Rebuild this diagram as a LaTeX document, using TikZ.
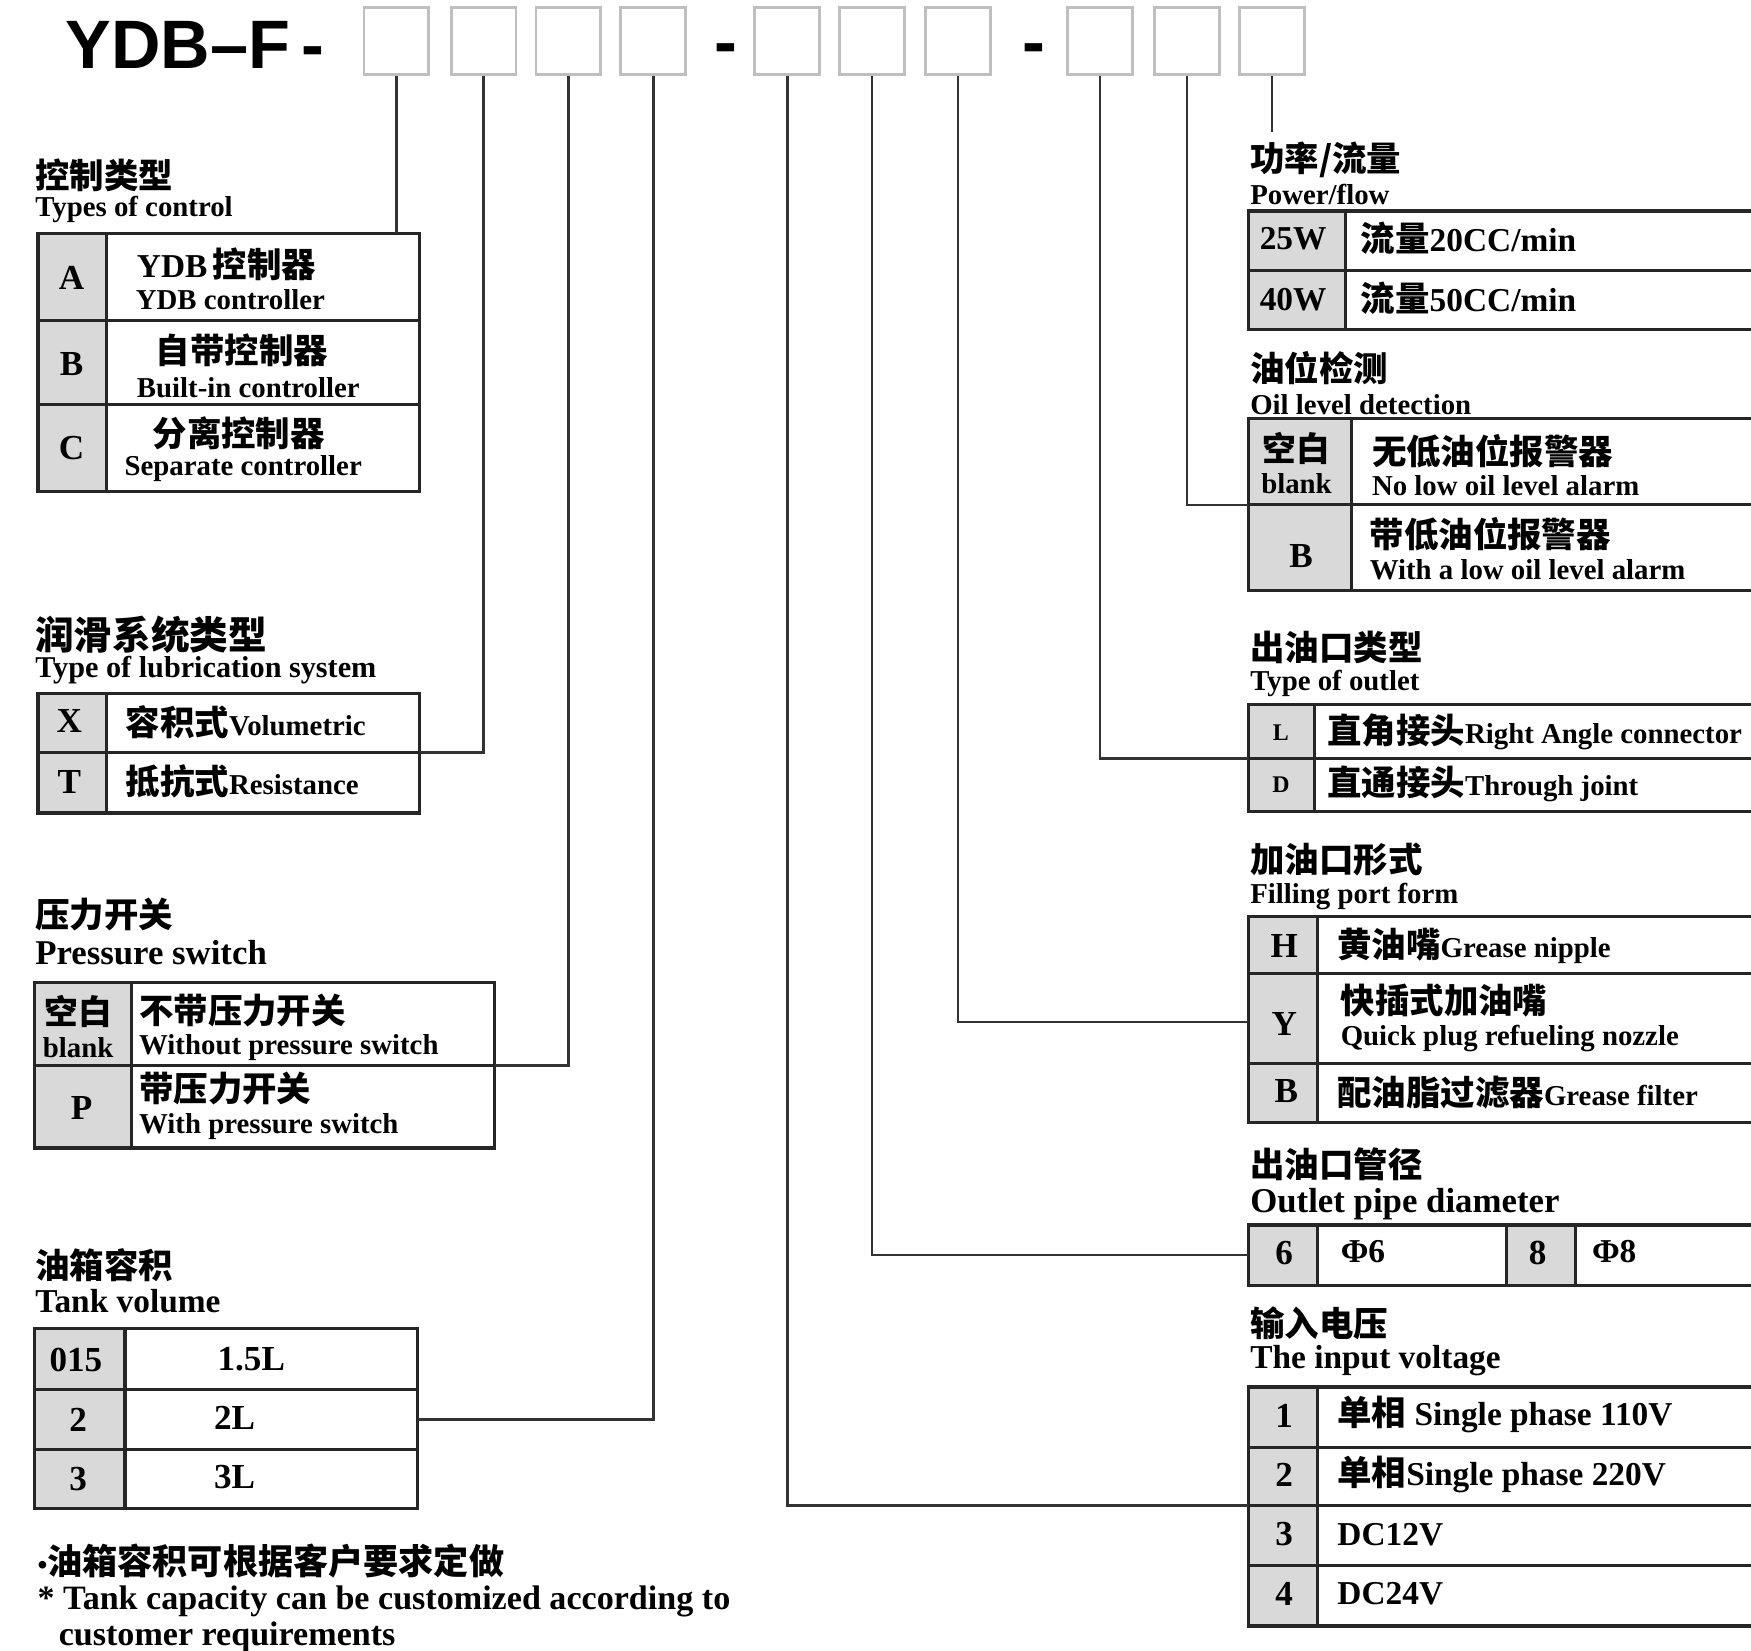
\documentclass[tikz,border=0pt]{standalone}
\usepackage{fontspec}
\setmainfont{Liberation Serif}
\newfontfamily\cjk{Noto Sans CJK SC}
\newfontfamily\hdr{Liberation Sans}
\usetikzlibrary{positioning}

\newcommand{\zh}[1]{{\cjk\bfseries\fontsize{9.8}{10}\selectfont #1}}

\tikzset{
  hbox/.style={draw=black!25, line width=0.8pt, minimum width=0.648cm, minimum height=0.67cm, inner sep=0},
  tbl/.style={draw=black!85, line width=0.9pt},
  codecol/.style={fill=black!15},
  conn/.style={draw=black!80, line width=0.7pt},
  lbl/.style={anchor=west, inner sep=0},
  cn/.style={lbl, font=\cjk\bfseries\fontsize{9.8}{10}\selectfont},
  en/.style={lbl, font=\bfseries\fontsize{8.2}{9}\selectfont},
  big/.style={lbl, font=\bfseries\fontsize{9.5}{10}\selectfont},
  codeltr/.style={inner sep=0, font=\bfseries\fontsize{10}{11}\selectfont},
  grpdash/.style={inner sep=0, font=\hdr\bfseries\fontsize{19.5}{20}\selectfont}
}

\begin{document}
\begin{tikzpicture}[x=0.011167cm, y=-0.011167cm]
  \useasboundingbox (0,0) rectangle (1568,1478);
  \clip (0,0) rectangle (1568,1478);

  % model code
  \node[lbl, font=\hdr\bfseries\fontsize{19.5}{20}\selectfont] (model) at (58,40) {YDB–F\,-};
  \node[grpdash] (d1) at (650,49) {-};
  \node[grpdash] (d2) at (926,49) {-};
  \foreach \n/\x in {1/355,2/433,3/509,4/585,5/705,6/781,7/858,8/985,9/1063,10/1139}
    \node[hbox] (b\n) at (\x,37) {};

  % Types of control
  \node[cn] (ctrl-zh) at (31,157) {控制类型};
  \node[en] (ctrl-en) at (31,188) {Types of control};
  \fill[codecol] (34,209) rectangle (95,440);
  \draw[tbl] (34,209) rectangle (376,440) (95,209) -- (95,440)
    (34,287) -- (376,287) (34,362) -- (376,362);
  \node[codeltr] (ctrl-a) at (64,249) {A};
  \node[codeltr] (ctrl-b) at (64,326) {B};
  \node[codeltr] (ctrl-c) at (64,401) {C};
  \node[big] (ctrl-a1) at (122,237) {YDB\,\zh{控制器}};
  \node[en] (ctrl-a2) at (121,268) {YDB controller};
  \node[cn] (ctrl-b1) at (139,314) {自带控制器};
  \node[en] (ctrl-b2) at (122,347) {Built-in controller};
  \node[cn] (ctrl-c1) at (136,388) {分离控制器};
  \node[en] (ctrl-c2) at (111,420) {Separate controller};

  % Type of lubrication system
  \node[cn, font=\cjk\bfseries\fontsize{11}{12}\selectfont] (lube-zh) at (31,568) {润滑系统类型};
  \node[en, font=\bfseries\fontsize{8.6}{10}\selectfont] (lube-en) at (31,600) {Type of lubrication system};
  \fill[codecol] (34,621) rectangle (95,728);
  \draw[tbl] (34,621) rectangle (376,728) (95,621) -- (95,728) (34,674) -- (376,674);
  \node[codeltr] (lube-x) at (62,646) {X};
  \node[codeltr] (lube-t) at (62,700) {T};
  \node[en] (lube-x1) at (112,647) {\zh{容积式}Volumetric};
  \node[en] (lube-t1) at (112,700) {\zh{抵抗式}Resistance};

  % Pressure switch
  \node[cn] (press-zh) at (31,819) {压力开关};
  \node[en, font=\bfseries\fontsize{9.9}{11}\selectfont] (press-en) at (31,853) {Pressure switch};
  \fill[codecol] (31,880) rectangle (118,1028);
  \draw[tbl] (31,880) rectangle (443,1028) (118,880) -- (118,1028) (31,954) -- (443,954);
  \node[inner sep=0, font=\cjk\bfseries\fontsize{9.6}{10}\selectfont] (press-k1) at (70,906) {空白};
  \node[inner sep=0, font=\bfseries\fontsize{8.2}{9}\selectfont] (press-k2) at (70,938) {blank};
  \node[codeltr] (press-p) at (73,992) {P};
  \node[cn] (press-a1) at (124,905) {不带压力开关};
  \node[en] (press-a2) at (124,938) {Without pressure switch};
  \node[cn] (press-b1) at (124,975) {带压力开关};
  \node[en] (press-b2) at (124,1009) {With pressure switch};

  % Tank volume
  \node[cn] (tank-zh) at (31,1133) {油箱容积};
  \node[big] (tank-en) at (31,1165) {Tank volume};
  \fill[codecol] (31,1190) rectangle (112,1351);
  \draw[tbl] (31,1190) rectangle (374,1351) (112,1190) -- (112,1351)
    (31,1244) -- (374,1244) (31,1298) -- (374,1298);
  \node[codeltr] (tank-1) at (68,1218) {015};
  \node[codeltr] (tank-2) at (70,1271) {2};
  \node[codeltr] (tank-3) at (70,1324) {3};
  \node[codeltr] (tank-1v) at (225,1217) {1.5L};
  \node[codeltr] (tank-2v) at (210,1270) {2L};
  \node[codeltr] (tank-3v) at (210,1323) {3L};
  \node[lbl, font=\cjk\bfseries\fontsize{10}{11}\selectfont] (note-zh) at (33,1398) {{\rmfamily\bfseries\fontsize{8}{9}\selectfont •}油箱容积可根据客户要求定做};
  \node[lbl, font=\bfseries\fontsize{9.7}{11}\selectfont] (note-en1) at (33,1434) {* Tank capacity can be customized according to};
  \node[lbl, font=\bfseries\fontsize{9.7}{11}\selectfont] (note-en2) at (52,1466) {customer requirements};

  % Power/flow
  \node[cn] (pow-zh) at (1119,143) {功率/流量};
  \node[en] (pow-en) at (1119,174) {Power/flow};
  \fill[codecol] (1118,189) rectangle (1205,295);
  \draw[tbl] (1118,189) rectangle (1600,295) (1205,189) -- (1205,295) (1118,242) -- (1600,242);
  \node[codeltr, font=\bfseries\fontsize{9.5}{11}\selectfont] (pow-25) at (1158,214) {25W};
  \node[codeltr, font=\bfseries\fontsize{9.5}{11}\selectfont] (pow-40) at (1158,268) {40W};
  \node[big] (pow-25v) at (1218,213) {\zh{流量}20CC/min};
  \node[big] (pow-40v) at (1218,267) {\zh{流量}50CC/min};

  % Oil level detection
  \node[cn] (oil-zh) at (1119,330) {油位检测};
  \node[en] (oil-en) at (1119,362) {Oil level detection};
  \fill[codecol] (1118,375) rectangle (1210,529);
  \draw[tbl] (1118,375) rectangle (1600,529) (1210,375) -- (1210,529) (1118,452) -- (1600,452);
  \node[inner sep=0, font=\cjk\bfseries\fontsize{9.6}{10}\selectfont] (oil-k1) at (1161,402) {空白};
  \node[inner sep=0, font=\bfseries\fontsize{8.2}{9}\selectfont] (oil-k2) at (1161,433) {blank};
  \node[codeltr] (oil-b) at (1165,498) {B};
  \node[cn] (oil-a1) at (1228,404) {无低油位报警器};
  \node[en] (oil-a2) at (1228,435) {No low oil level alarm};
  \node[cn] (oil-b1) at (1226,478) {带低油位报警器};
  \node[en] (oil-b2) at (1226,510) {With a low oil level alarm};

  % Type of outlet
  \node[cn] (out-zh) at (1119,580) {出油口类型};
  \node[en] (out-en) at (1119,612) {Type of outlet};
  \fill[codecol] (1118,631) rectangle (1177,727);
  \draw[tbl] (1118,631) rectangle (1600,727) (1177,631) -- (1177,727) (1118,679) -- (1600,679);
  \node[codeltr, font=\bfseries\fontsize{6.8}{8}\selectfont] (out-l) at (1147,656) {L};
  \node[codeltr, font=\bfseries\fontsize{6.8}{8}\selectfont] (out-d) at (1147,703) {D};
  \node[en] (out-l1) at (1188,655) {\zh{直角接头}Right Angle connector};
  \node[en] (out-d1) at (1188,702) {\zh{直通接头}Through joint};

  % Filling port form
  \node[cn] (fill-zh) at (1119,770) {加油口形式};
  \node[en] (fill-en) at (1119,803) {Filling port form};
  \fill[codecol] (1118,821) rectangle (1180,1005);
  \draw[tbl] (1118,821) rectangle (1600,1005) (1180,821) -- (1180,1005)
    (1118,872) -- (1600,872) (1118,952) -- (1600,952);
  \node[codeltr] (fill-h) at (1150,847) {H};
  \node[codeltr] (fill-y) at (1150,917) {Y};
  \node[codeltr] (fill-b) at (1152,977) {B};
  \node[en] (fill-h1) at (1197,847) {\zh{黄油嘴}Grease nipple};
  \node[cn] (fill-y1) at (1200,896) {快插式加油嘴};
  \node[en] (fill-y2) at (1200,930) {Quick plug refueling nozzle};
  \node[en] (fill-b1) at (1197,978) {\zh{配油脂过滤器}Grease filter};

  % Outlet pipe diameter
  \node[cn] (dia-zh) at (1119,1043) {出油口管径};
  \node[en, font=\bfseries\fontsize{9.9}{11}\selectfont] (dia-en) at (1119,1078) {Outlet pipe diameter};
  \fill[codecol] (1118,1097) rectangle (1180,1151) (1349,1097) rectangle (1411,1151);
  \draw[tbl] (1118,1097) rectangle (1600,1151) (1180,1097) -- (1180,1151)
    (1349,1097) -- (1349,1151) (1411,1097) -- (1411,1151);
  \node[codeltr] (dia-6) at (1150,1122) {6};
  \node[codeltr] (dia-8) at (1377,1122) {8};
  \node[big] (dia-6v) at (1200,1121) {Φ6};
  \node[big] (dia-8v) at (1425,1121) {Φ8};

  % The input voltage
  \node[cn] (volt-zh) at (1119,1185) {输入电压};
  \node[big] (volt-en) at (1119,1218) {The input voltage};
  \fill[codecol] (1118,1242) rectangle (1180,1456);
  \draw[tbl] (1118,1242) rectangle (1600,1456) (1180,1242) -- (1180,1456)
    (1118,1296) -- (1600,1296) (1118,1348) -- (1600,1348) (1118,1402) -- (1600,1402);
  \node[codeltr] (volt-1) at (1150,1268) {1};
  \node[codeltr] (volt-2) at (1150,1321) {2};
  \node[codeltr] (volt-3) at (1150,1374) {3};
  \node[codeltr] (volt-4) at (1150,1427) {4};
  \node[big] (volt-1v) at (1197,1267) {\zh{单相} Single phase 110V};
  \node[big] (volt-2v) at (1197,1320) {\zh{单相}Single phase 220V};
  \node[big] (volt-3v) at (1197,1374) {DC12V};
  \node[big] (volt-4v) at (1197,1427) {DC24V};

  % connectors from the code boxes
  \coordinate (ctrl) at (355,209);
  \coordinate (lube) at (376,674);
  \coordinate (press) at (443,954);
  \coordinate (tank) at (374,1271);
  \coordinate (volt) at (1118,1348);
  \coordinate (dia) at (1118,1124);
  \coordinate (fill) at (1118,915);
  \coordinate (outl) at (1118,679);
  \coordinate (oil) at (1118,452);
  \coordinate (pow) at (1139,118);
  \draw[conn] (b1.south) -- (ctrl);
  \draw[conn] (b2.south) |- (lube);
  \draw[conn] (b3.south) |- (press);
  \draw[conn] (b4.south) |- (tank);
  \draw[conn] (b5.south) |- (volt);
  \draw[conn] (b6.south) |- (dia);
  \draw[conn] (b7.south) |- (fill);
  \draw[conn] (b8.south) |- (outl);
  \draw[conn] (b9.south) |- (oil);
  \draw[conn] (b10.south) -- (pow);
\end{tikzpicture}
\end{document}
